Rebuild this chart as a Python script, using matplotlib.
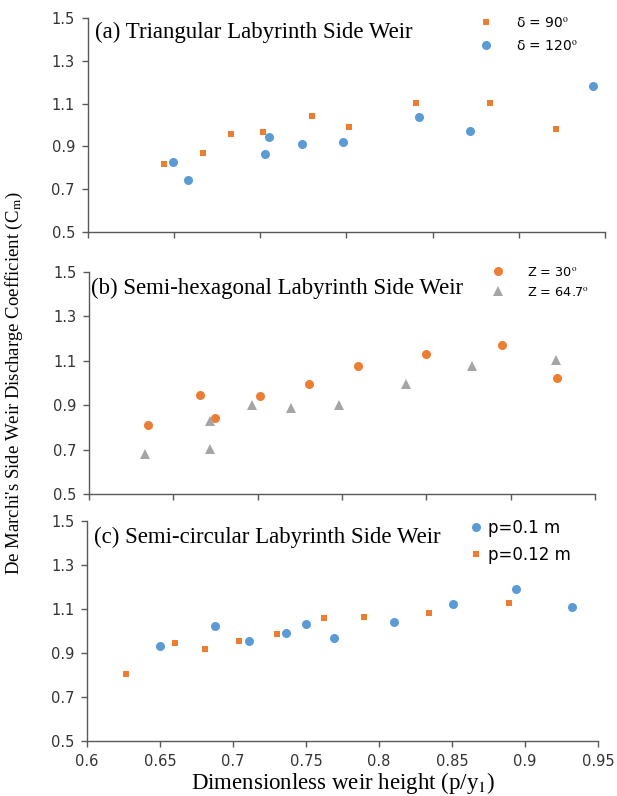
"""Side weir discharge coefficient vs dimensionless weir height, three labyrinth shapes."""

import matplotlib

matplotlib.use("Agg")
import matplotlib.pyplot as plt
import numpy as np

plt.rcParams["mathtext.fontset"] = "stix"

W, H = 617, 796

ORANGE = "#ED7D31"
BLUE = "#5B9BD5"
GRAY = "#A5A5A5"
AXIS = "#595959"

# (a) triangular labyrinth side weir
tri_90_x = [0.652, 0.678, 0.697, 0.719, 0.752, 0.777, 0.822, 0.872, 0.917]
tri_90_y = [0.819, 0.869, 0.958, 0.966, 1.042, 0.992, 1.105, 1.105, 0.980]
tri_120_x = [0.658, 0.668, 0.720, 0.723, 0.745, 0.773, 0.824, 0.859, 0.942]
tri_120_y = [0.827, 0.742, 0.863, 0.945, 0.911, 0.920, 1.036, 0.973, 1.183]

# (b) semi-hexagonal labyrinth side weir
hex_30_x = [0.641, 0.677, 0.687, 0.718, 0.752, 0.786, 0.833, 0.886, 0.924]
hex_30_y = [0.811, 0.947, 0.843, 0.940, 0.995, 1.077, 1.132, 1.172, 1.024]
hex_647_x = [0.639, 0.684, 0.684, 0.713, 0.740, 0.773, 0.819, 0.865, 0.923]
hex_647_y = [0.681, 0.831, 0.702, 0.900, 0.886, 0.900, 0.995, 1.077, 1.105]

# (c) semi-circular labyrinth side weir
circ_10_x = [0.650, 0.688, 0.711, 0.736, 0.750, 0.769, 0.810, 0.851, 0.894, 0.932]
circ_10_y = [0.934, 1.024, 0.955, 0.989, 1.031, 0.969, 1.039, 1.124, 1.193, 1.108]
circ_12_x = [0.627, 0.660, 0.681, 0.704, 0.730, 0.762, 0.790, 0.834, 0.889]
circ_12_y = [0.806, 0.947, 0.918, 0.953, 0.987, 1.058, 1.064, 1.080, 1.129]

y_ticks = [0.5, 0.7, 0.9, 1.1, 1.3, 1.5]
x_ticks_c = [0.6, 0.65, 0.7, 0.75, 0.8, 0.85, 0.9, 0.95]


def px_axes(fig, left, right, top, bottom):
    return fig.add_axes([left / W, 1 - bottom / H, (right - left) / W, (bottom - top) / H])


def style_axes(ax, labelled_x):
    ax.set_xlim(0.6, 0.95)
    ax.set_ylim(0.5, 1.5)
    ax.set_yticks(y_ticks)
    ax.set_yticklabels([f"{v:.1f}" for v in y_ticks])
    if labelled_x:
        ax.set_xticks(x_ticks_c)
        ax.set_xticklabels([f"{v:g}" for v in x_ticks_c])
    else:
        ax.set_xticks(np.linspace(0.6, 0.95, 7))
        ax.set_xticklabels([])
    for side in ("top", "right"):
        ax.spines[side].set_visible(False)
    for side in ("left", "bottom"):
        ax.spines[side].set_color(AXIS)
        ax.spines[side].set_linewidth(1.0)
    ax.tick_params(direction="out", length=4, width=1.0, color=AXIS,
                   labelsize=10.5, labelcolor="#333333", pad=5)


def add_legend(fig, ax, x, y, size, handlelength, textpad, spacing):
    ax.legend(loc="upper left", bbox_to_anchor=(x / W, 1 - y / H),
              bbox_transform=fig.transFigure, frameon=False, borderpad=0,
              borderaxespad=0, fontsize=size, handlelength=handlelength,
              handletextpad=textpad, labelspacing=spacing, numpoints=1)


fig = plt.figure(figsize=(W / 100, H / 100), dpi=100)

serif = "Liberation Serif"

# panel (a)
ax_a = px_axes(fig, 87.5, 605, 18, 232)
ax_a.plot(tri_90_x, tri_90_y, "s", color=ORANGE, ms=4.5, mew=0, label="δ = 90$^{\\mathrm{o}}$")
ax_a.plot(tri_120_x, tri_120_y, "o", color=BLUE, ms=6.5, mew=0, label="δ = 120$^{\\mathrm{o}}$")
style_axes(ax_a, False)
add_legend(fig, ax_a, 479, 16, 10, 1.0, 1.65, 0.65)
fig.text(95 / W, 1 - 38 / H, "(a) Triangular Labyrinth Side Weir", family=serif,
         fontsize=16.5, va="baseline", ha="left")

# panel (b)
ax_b = px_axes(fig, 89, 595, 272, 494)
ax_b.plot(hex_30_x, hex_30_y, "o", color=ORANGE, ms=6.5, mew=0, label="Z = 30$^{\\mathrm{o}}$")
ax_b.plot(hex_647_x, hex_647_y, "^", color=GRAY, ms=6.5, mew=0, label="Z = 64.7$^{\\mathrm{o}}$")
style_axes(ax_b, False)
add_legend(fig, ax_b, 491.5, 265.5, 9.3, 1.0, 1.75, 0.55)
fig.text(91 / W, 1 - 294 / H, "(b) Semi-hexagonal Labyrinth Side Weir", family=serif,
         fontsize=16.5, va="baseline", ha="left")

# panel (c)
ax_c = px_axes(fig, 87, 598, 521, 741)
ax_c.plot(circ_10_x, circ_10_y, "o", color=BLUE, ms=6.5, mew=0, label="p=0.1 m")
ax_c.plot(circ_12_x, circ_12_y, "s", color=ORANGE, ms=4.5, mew=0, label="p=0.12 m")
style_axes(ax_c, True)
add_legend(fig, ax_c, 469.3, 519, 12, 0.8, 0.33, 0.54)
fig.text(94 / W, 1 - 543 / H, "(c) Semi-circular Labyrinth Side Weir", family=serif,
         fontsize=16.5, va="baseline", ha="left")

fig.text(14 / W, 1 - 383 / H, "De Marchi's Side Weir Discharge Coefficient (C$_{\\mathrm{m}}$)",
         family=serif, fontsize=13.5, rotation=90, ha="center", va="center")
fig.text(343 / W, 1 - 783 / H, "Dimensionless weir height (p/y$_{1}$)", family=serif,
         fontsize=16.5, ha="center", va="center")

fig.savefig("out.png", dpi=100)
